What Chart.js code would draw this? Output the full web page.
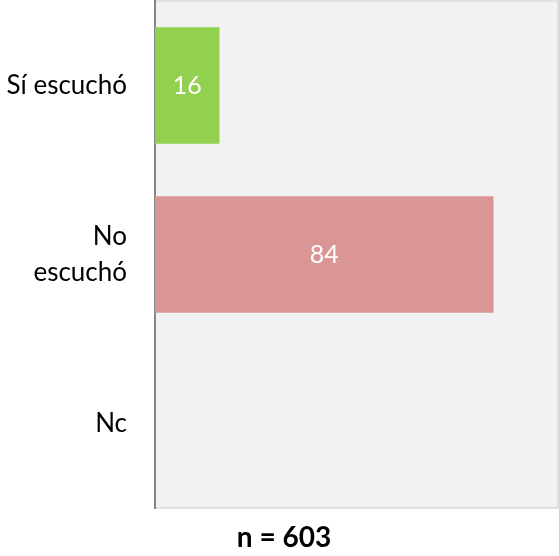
<!DOCTYPE html>
<html>
<head>
<meta charset="utf-8">
<script src="https://cdn.jsdelivr.net/npm/chart.js@4"></script>
<style>
  html, body { margin: 0; padding: 0; background: #fff; }
  #wrap { width: 559px; height: 556px; }
</style>
</head>
<body>
<div id="wrap"><canvas id="c"></canvas></div>
<script>
const categories = [['Sí escuchó'], ['No', 'escuchó'], ['Nc']]
const values = [16, 84, 0]
const barColors = ['#92d050', '#d99694', '#d99694']
const titleText = 'n = 603'

// plot background + frame, like the office chart
const plotBg = {
  id: 'plotBg',
  afterLayout(chart) {
    // title in the original sits a bit right of the canvas centre
    if (chart.titleBlock) chart.titleBlock.left = 10
  },
  beforeDraw(chart) {
    const { ctx, chartArea: a } = chart
    ctx.save()
    ctx.fillStyle = '#f2f2f2'
    ctx.fillRect(a.left, a.top, a.right - a.left, a.bottom - a.top)
    ctx.strokeStyle = '#d9d9d9'
    ctx.lineWidth = 1.5
    ctx.strokeRect(a.left, a.top, a.right - a.left, a.bottom - a.top)
    ctx.restore()
  }
}

// white value labels in the middle of each bar
const barLabels = {
  id: 'barLabels',
  afterDatasetsDraw(chart) {
    const ctx = chart.ctx
    const meta = chart.getDatasetMeta(0)
    ctx.save()
    ctx.fillStyle = '#ffffff'
    ctx.font = '25px Lato'
    ctx.textAlign = 'center'
    ctx.textBaseline = 'middle'
    meta.data.forEach((bar, i) => {
      if (!values[i]) return
      ctx.fillText(String(values[i]), (bar.x + bar.base) / 2, bar.y)
    })
    ctx.restore()
  }
}

new Chart(document.getElementById('c'), {
  type: 'bar',
  data: {
    labels: categories,
    datasets: [{
      data: values,
      backgroundColor: barColors,
      categoryPercentage: 1,
      barPercentage: 0.69
    }]
  },
  options: {
    indexAxis: 'y',
    responsive: true,
    maintainAspectRatio: false,
    animation: false,
    layout: { padding: { top: 1, right: 1, left: 0, bottom: 0 } },
    plugins: {
      legend: { display: false },
      tooltip: { enabled: false },
      title: {
        display: true,
        position: 'bottom',
        text: titleText,
        color: '#000',
        font: { family: 'Lato', size: 28, weight: 'bold' },
        padding: { top: 13, bottom: 1.4 }
      }
    },
    scales: {
      x: { display: false, min: 0, max: 100 },
      y: {
        afterFit(scale) {
          scale.width = 155
          scale.paddingTop = 0
          scale.paddingBottom = 0
        },
        grid: { display: false, drawTicks: false },
        border: { display: true, color: '#868686', width: 2 },
        ticks: {
          color: '#000',
          padding: 28,
          font: { family: 'Lato', size: 26, lineHeight: 1.4 }
        }
      }
    }
  },
  plugins: [plotBg, barLabels]
})
</script>
</body>
</html>
